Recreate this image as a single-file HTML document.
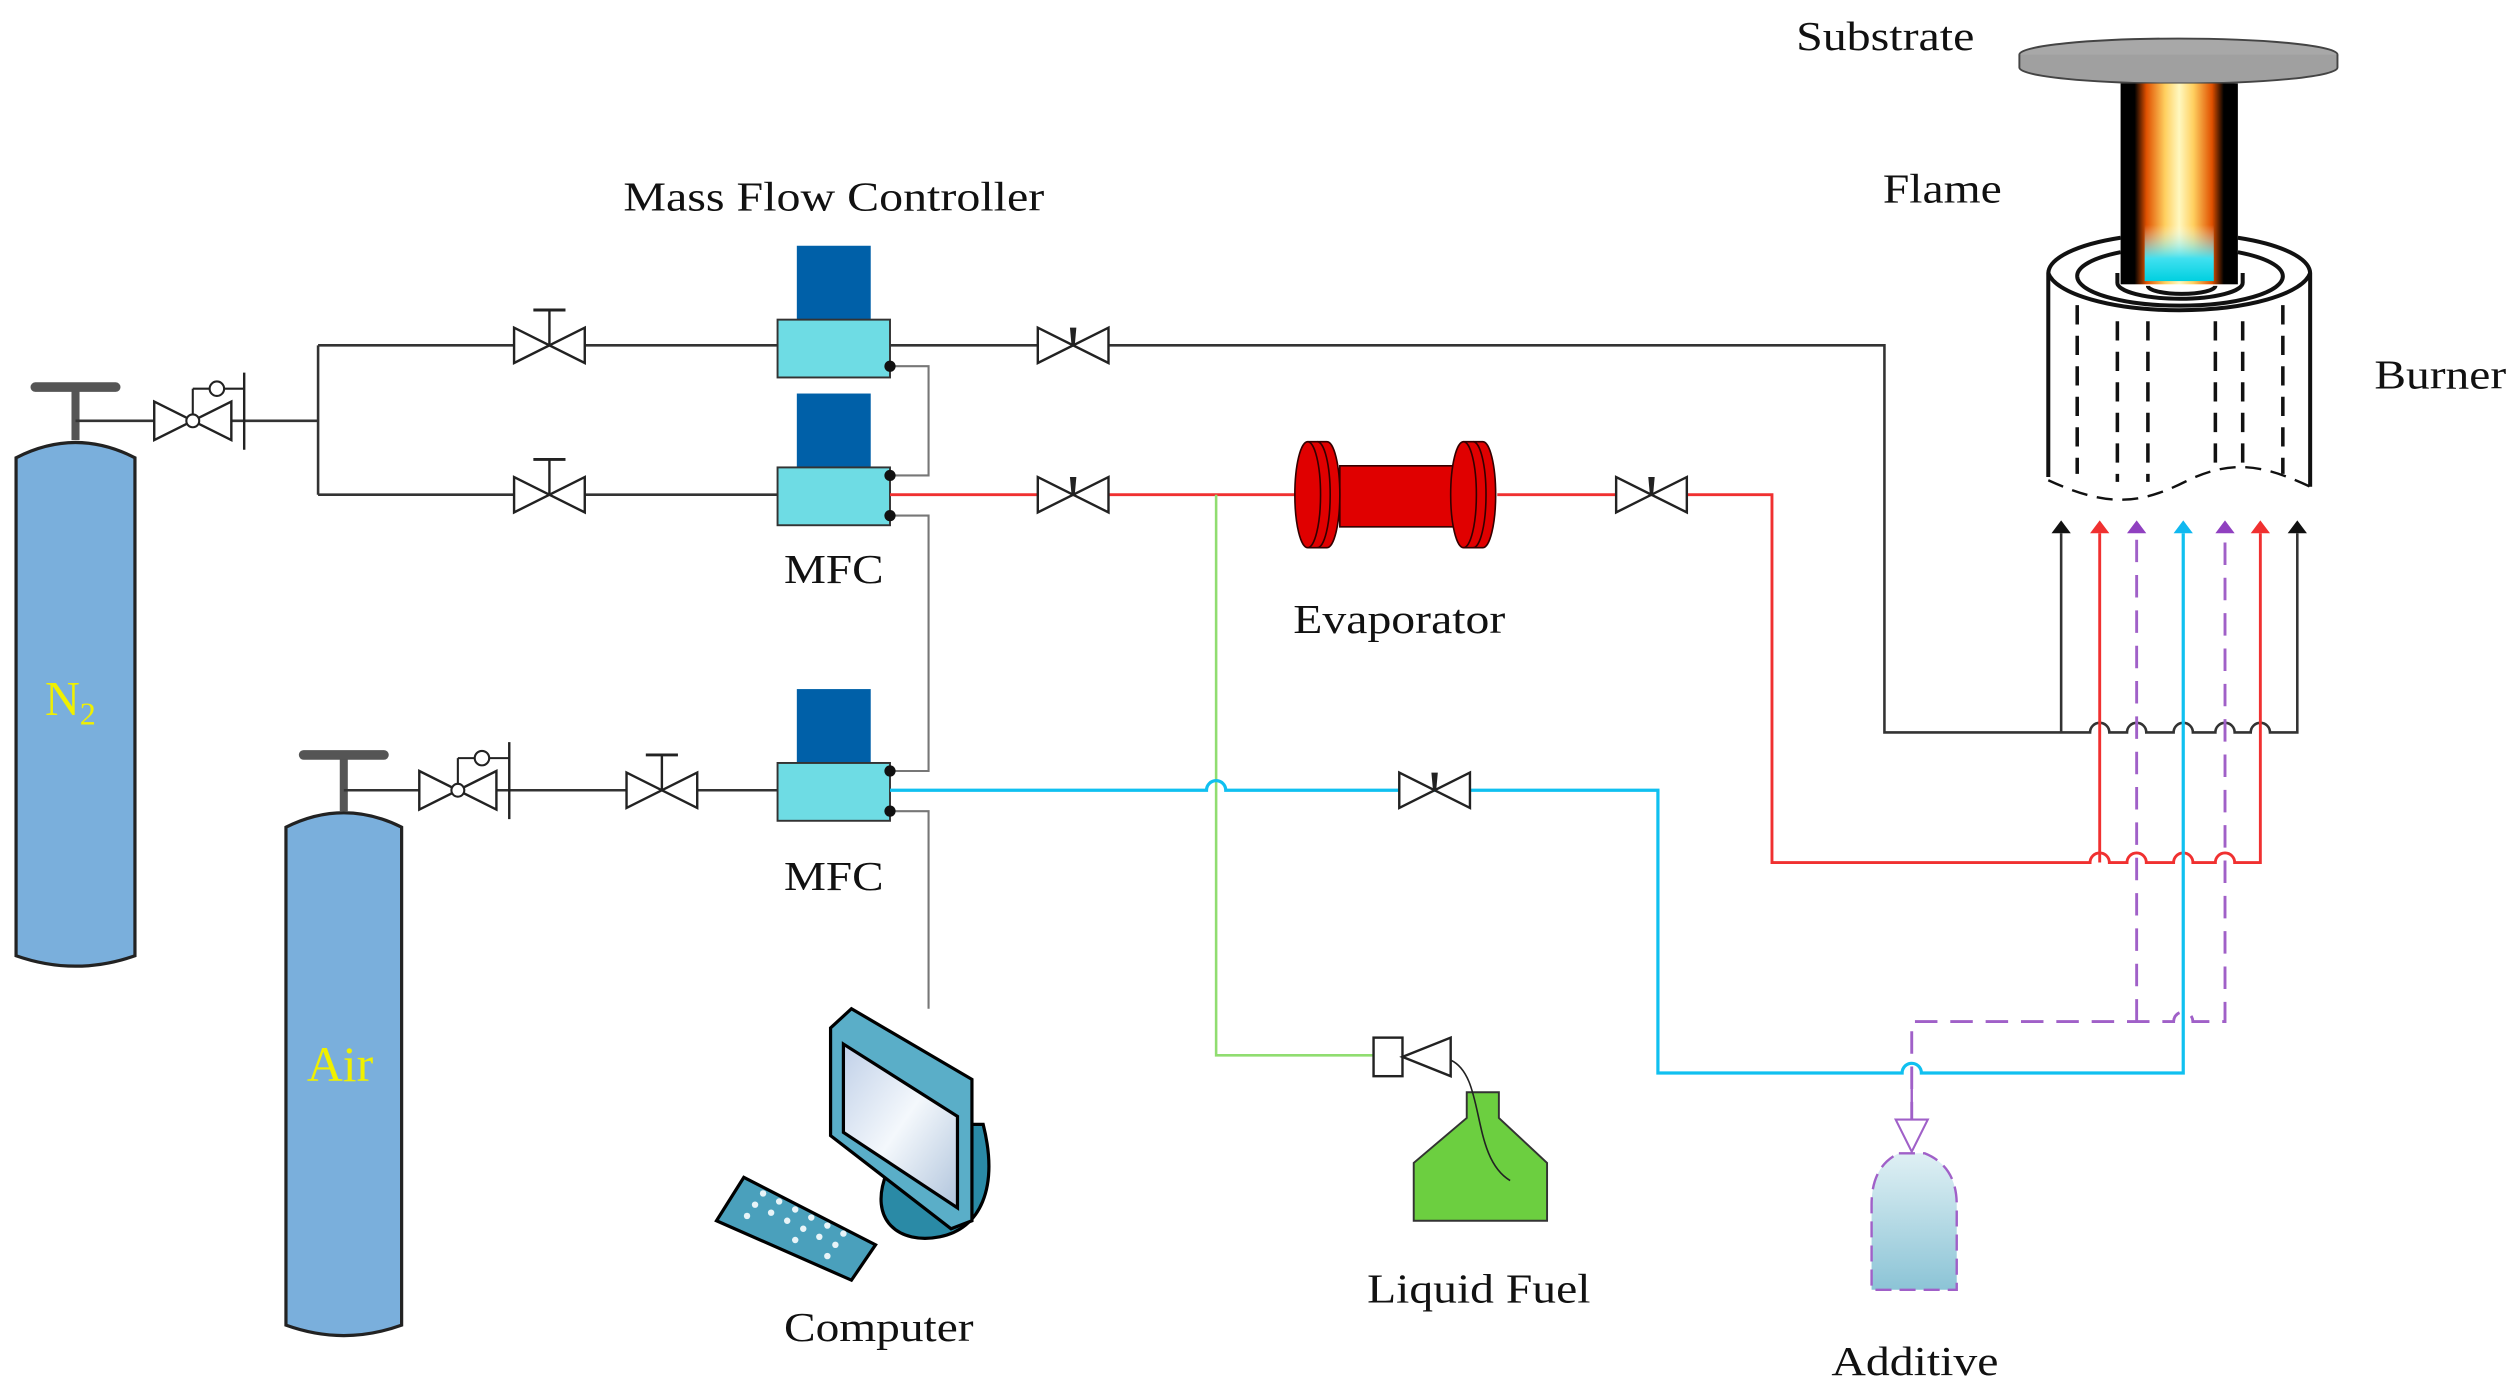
<!DOCTYPE html>
<html><head><meta charset="utf-8"><style>html,body{margin:0;padding:0;background:#fff}svg{display:block}</style></head>
<body>
<svg width="2519" height="1391" viewBox="0 0 1568 866" preserveAspectRatio="none" xmlns="http://www.w3.org/2000/svg" font-family="Liberation Serif, serif">
<defs>
<linearGradient id="flame" x1="0" x2="1" y1="0" y2="0">
<stop offset="0" stop-color="#000"/><stop offset="0.12" stop-color="#000"/><stop offset="0.22" stop-color="#e05000"/><stop offset="0.38" stop-color="#ffd060"/><stop offset="0.5" stop-color="#fff8c0"/><stop offset="0.62" stop-color="#ffd060"/><stop offset="0.78" stop-color="#e05000"/><stop offset="0.88" stop-color="#000"/><stop offset="1" stop-color="#000"/></linearGradient>
<linearGradient id="fbase" x1="0" x2="0" y1="0" y2="1"><stop offset="0" stop-color="#fff" stop-opacity="0"/><stop offset="0.6" stop-color="#40e0f0"/><stop offset="1" stop-color="#00d0e0"/></linearGradient>
<linearGradient id="add" x1="0" x2="0" y1="0" y2="1"><stop offset="0" stop-color="#dff0f4"/><stop offset="1" stop-color="#8cc4d6"/></linearGradient>
<linearGradient id="scr" x1="0" x2="1" y1="0" y2="1"><stop offset="0" stop-color="#c0d0e8"/><stop offset="0.5" stop-color="#f4f8fc"/><stop offset="1" stop-color="#b0c4dc"/></linearGradient>
<g id="valve"><path d="M-22,-11 L22,11 L22,-11 L-22,11 Z" fill="#fff" stroke="#222" stroke-width="1.5"/></g>
<g id="hvalve"><use href="#valve"/><line x1="0" y1="0" x2="0" y2="-22" stroke="#222" stroke-width="1.5"/><line x1="-10" y1="-22" x2="10" y2="-22" stroke="#222" stroke-width="1.8"/></g>
<g id="mvalve"><use href="#valve"/><path d="M-2,-11 L2,-11 L1,0 L-1,0Z" fill="#222"/></g>
<g id="reg"><path d="M-24,-12 L24,12 L24,-12 L-24,12 Z" fill="#fff" stroke="#222" stroke-width="1.5"/><circle cx="0" cy="0" r="4" fill="#fff" stroke="#222" stroke-width="1.3"/><line x1="0" y1="-4" x2="0" y2="-20" stroke="#222" stroke-width="1.3"/><line x1="0" y1="-20" x2="32" y2="-20" stroke="#222" stroke-width="1.3"/><circle cx="15" cy="-20" r="4.5" fill="#fff" stroke="#222" stroke-width="1.3"/><line x1="32" y1="-30" x2="32" y2="18" stroke="#222" stroke-width="1.5"/></g>
<g id="mfc"><rect x="12" y="0" width="46" height="46" fill="#0060a8"/><rect x="0" y="46" width="70" height="36" fill="#6edce4" stroke="#333" stroke-width="1.2"/></g>
<g id="flange" stroke="#300" stroke-width="1" fill="#e00000"><path d="M8,0 h12 a8,33 0 0 1 0,66 h-12 a8,33 0 0 1 0,-66Z"/><path d="M8,0 a8,33 0 0 1 0,66" fill="none"/><path d="M14,0 a8,33 0 0 1 0,66" fill="none"/></g>
</defs>

<path d="M10,285 Q47,266 84,285 L84,595 Q47,608 10,595 Z" fill="#7aafdc" stroke="#222" stroke-width="2"/>
<line x1="47" y1="243" x2="47" y2="274" stroke="#555" stroke-width="5"/>
<line x1="22" y1="241" x2="72" y2="241" stroke="#555" stroke-width="6" stroke-linecap="round"/>
<text x="28" y="445" fill="#f0f000" font-size="30">N<tspan font-size="20" dy="6">2</tspan></text>
<path d="M178,515 Q214,497 250,515 L250,825 Q214,838 178,825 Z" fill="#7aafdc" stroke="#222" stroke-width="2"/>
<line x1="214" y1="470" x2="214" y2="505" stroke="#555" stroke-width="5"/>
<line x1="189" y1="470" x2="239" y2="470" stroke="#555" stroke-width="6" stroke-linecap="round"/>
<text x="191" y="673" fill="#f0f000" font-size="31">Air</text>

<g stroke="#333" stroke-width="1.6" fill="none">
<path d="M47,262 H198 M198,215 V308 M198,215 H484 M198,308 H484"/>
<path d="M214,492 H484"/>
<path d="M554,215 H1173 V456 H1301 a6,6 0 0 1 12,0 H1324 a6,6 0 0 1 12,0 H1353 a6,6 0 0 1 12,0 H1379 a6,6 0 0 1 12,0 H1401 a6,6 0 0 1 12,0 H1430 V332"/>
<path d="M1283,456 V332"/>
</g>
<g stroke="#777" stroke-width="1.3" fill="none">
<path d="M554,228 H578 V296 H554 M554,321 H578 V480 H554 M554,505 H578 V628"/>
</g>
<use href="#reg" x="120" y="262"/>
<use href="#reg" x="285" y="492"/>
<use href="#hvalve" x="342" y="215"/>
<use href="#hvalve" x="342" y="308"/>
<use href="#hvalve" x="412" y="492"/>
<use href="#mfc" x="484" y="153"/>
<use href="#mfc" x="484" y="245"/>
<use href="#mfc" x="484" y="429"/>
<g fill="#111"><circle cx="554" cy="228" r="3.5"/><circle cx="554" cy="296" r="3.5"/><circle cx="554" cy="321" r="3.5"/><circle cx="554" cy="480" r="3.5"/><circle cx="554" cy="505" r="3.5"/></g>

<g stroke="#f03030" stroke-width="1.8" fill="none">
<path d="M554,308 H810 M932,308 H1103 V537 H1301 a6,6 0 0 1 12,0 H1324 a6,6 0 0 1 12,0 H1353 a6,6 0 0 1 12,0 H1379 a6,6 0 0 1 12,0 H1407 V332"/>
<path d="M1307,537 V332"/>
</g>
<path d="M757,308 V657 H855" stroke="#90dd70" stroke-width="1.6" fill="none"/>
<g stroke="#10c0f0" stroke-width="2" fill="none">
<path d="M554,492 H751 a6,6 0 0 1 12,0 H1032 V668 H1184 a6,6 0 0 1 12,0 H1359 V332"/>
</g>
<g stroke="#a060c8" stroke-width="1.8" fill="none" stroke-dasharray="14,8">
<path d="M1190,700 V636 H1353 a6,6 0 0 1 12,0 H1385 V332"/>
<path d="M1330,636 V332"/>
</g>
<path d="M1190,668 V700" stroke="#a060c8" stroke-width="1.5"/>
<use href="#mvalve" x="668" y="215"/>
<use href="#mvalve" x="668" y="308"/>
<use href="#mvalve" x="1028" y="308"/>
<use href="#mvalve" x="893" y="492"/>

<g>
<path d="M1277,332 L1283,324 L1289,332Z" fill="#111"/>
<path d="M1301,332 L1307,324 L1313,332Z" fill="#f03030"/>
<path d="M1324,332 L1330,324 L1336,332Z" fill="#9040c0"/>
<path d="M1353,332 L1359,324 L1365,332Z" fill="#10b8f0"/>
<path d="M1379,332 L1385,324 L1391,332Z" fill="#9040c0"/>
<path d="M1401,332 L1407,324 L1413,332Z" fill="#f03030"/>
<path d="M1424,332 L1430,324 L1436,332Z" fill="#111"/>
</g>

<!-- evaporator -->
<rect x="834" y="290" width="80" height="38" fill="#e00000" stroke="#300" stroke-width="1"/>
<use href="#flange" x="806" y="275"/>
<use href="#flange" x="903" y="275"/>

<ellipse cx="1356" cy="34" rx="99" ry="10" fill="#a8a8a8" stroke="#444" stroke-width="1.2"/>
<path d="M1257,34 v8 a99,10 0 0 0 198,0 v-8" fill="#a0a0a0" stroke="#444" stroke-width="1.2"/>
<rect x="1320" y="52" width="73" height="125" fill="url(#flame)"/>
<rect x="1335" y="140" width="43" height="35" fill="url(#fbase)"/>
<g stroke="#111" stroke-width="2.5" fill="none">
<path d="M1275,170 A82,25 0 0 1 1320,148 M1393,148 A82,25 0 0 1 1438,170"/>
<path d="M1275,170 A82,26 0 0 0 1438,170"/>
<path d="M1293,172 A63,18 0 0 1 1320,157 M1393,157 A63,18 0 0 1 1421,172 M1293,172 A63,18 0 0 0 1421,172"/>
<path d="M1318,176 A39,10 0 0 0 1396,176 M1318,176 v-6 M1396,176 v-6 M1337,178 A21,5 0 0 0 1379,178"/>
<path d="M1275,170 V297 M1438,170 V303"/>
<path d="M1293,190 v105 M1318,200 v100 M1337,200 v100 M1379,200 v95 M1396,200 v95 M1421,190 v105" stroke-dasharray="12,7" stroke-width="2.2"/>
<path d="M1275,299 C1310,315 1330,315 1360,300 C1390,285 1410,290 1438,303" stroke-dasharray="10,6" stroke-width="1.5"/>
</g>

<g stroke="#000" stroke-width="2">
<path d="M552,730 C540,760 560,775 585,770 C610,765 622,740 612,700 L605,700 Z" fill="#2a8aa6"/>
<path d="M517,640 L530,628 L605,672 L605,760 L592,765 L517,707 Z" fill="#5aaec8"/>
<path d="M525,650 L596,695 L596,752 L525,705 Z" fill="url(#scr)"/>
<path d="M446,760 L463,733 L545,775 L530,797 Z" fill="#4aa0bc"/>
</g>
<g fill="#e8f4f8"><circle cx="470" cy="750" r="2"/><circle cx="480" cy="755" r="2"/><circle cx="490" cy="760" r="2"/><circle cx="500" cy="765" r="2"/><circle cx="510" cy="770" r="2"/><circle cx="520" cy="775" r="2"/><circle cx="475" cy="743" r="2"/><circle cx="485" cy="748" r="2"/><circle cx="495" cy="753" r="2"/><circle cx="505" cy="758" r="2"/><circle cx="515" cy="763" r="2"/><circle cx="525" cy="768" r="2"/><circle cx="465" cy="757" r="2"/><circle cx="495" cy="772" r="2"/><circle cx="515" cy="782" r="2"/></g>

<rect x="855" y="646" width="18" height="24" fill="#fff" stroke="#222" stroke-width="1.5"/>
<path d="M873,658 L903,646 L903,670 Z" fill="#fff" stroke="#222" stroke-width="1.5"/>
<path d="M913,680 h20 v16 l30,28 v36 h-83 v-36 l33,-28 Z" fill="#6ccf40" stroke="#333" stroke-width="1.2"/>
<path d="M903,660 C925,670 915,720 940,735" stroke="#222" stroke-width="1" fill="none"/>

<path d="M1180,697 L1200,697 L1190,717 Z" fill="#fff" stroke="#a060c8" stroke-width="1.3"/>
<path d="M1182,718 h16 q20,8 20,32 v53 h-53 v-53 q0,-24 17,-32Z" fill="url(#add)" stroke="#a060c8" stroke-width="1.5" stroke-dasharray="10,5"/>

<g fill="#111" font-size="26">
<text x="1118" y="31" textLength="111" lengthAdjust="spacingAndGlyphs">Substrate</text>
<text x="1172" y="126" textLength="74" lengthAdjust="spacingAndGlyphs">Flame</text>
<text x="1478" y="242" textLength="82" lengthAdjust="spacingAndGlyphs">Burner</text>
<text x="388" y="131" textLength="262" lengthAdjust="spacingAndGlyphs">Mass Flow Controller</text>
<text x="488" y="363" textLength="62" lengthAdjust="spacingAndGlyphs">MFC</text>
<text x="488" y="554" textLength="62" lengthAdjust="spacingAndGlyphs">MFC</text>
<text x="805" y="394" textLength="132" lengthAdjust="spacingAndGlyphs">Evaporator</text>
<text x="488" y="835" textLength="118" lengthAdjust="spacingAndGlyphs">Computer</text>
<text x="851" y="811" textLength="139" lengthAdjust="spacingAndGlyphs">Liquid Fuel</text>
<text x="1140" y="856" textLength="104" lengthAdjust="spacingAndGlyphs">Additive</text>
</g>
</svg>
</body></html>
